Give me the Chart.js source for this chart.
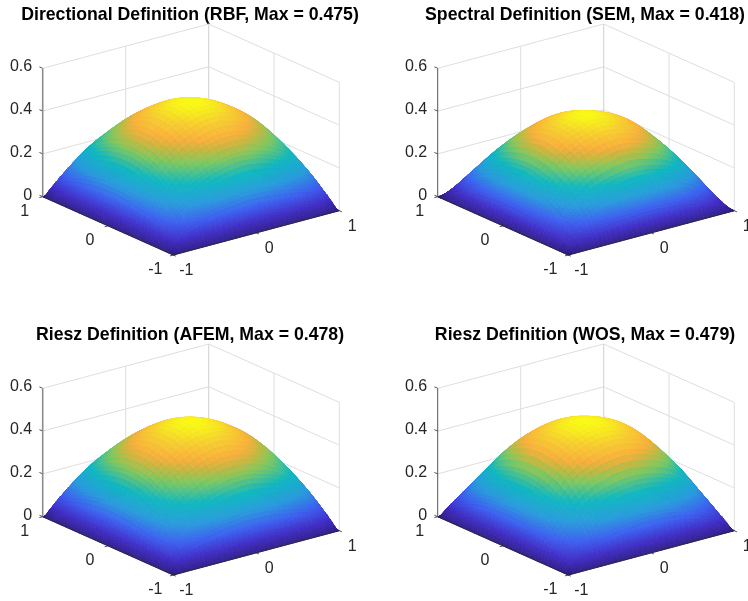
<!DOCTYPE html>
<html>
<head>
<meta charset="utf-8">
<title>Fractional Laplacian surfaces</title>
<script src="https://cdn.jsdelivr.net/npm/chart.js@4/dist/chart.umd.js"></script>
<style>
  html, body { margin: 0; padding: 0; background: #fff; overflow: hidden; width: 748px; height: 601px; }
  canvas { position: absolute; filter: blur(0.45px); }
</style>
</head>
<body>
<canvas id="panel-0" width="380" height="281" style="left:0;top:0"></canvas>
<canvas id="panel-1" width="380" height="281" style="left:395px;top:0"></canvas>
<canvas id="panel-2" width="380" height="281" style="left:0;top:320px"></canvas>
<canvas id="panel-3" width="380" height="281" style="left:395px;top:320px"></canvas>
<script>
'use strict';

/* ─── data ─── */
// surfaces are symmetric, so only the quarter x,y >= 0 is kept (rows = y, columns = x)
var quarterNodes = [0, 0.25, 0.5, 0.7, 0.85, 0.95, 1];

var heightsRBF = [
  [0.475, 0.454, 0.399, 0.333, 0.238, 0.128, 0],
  [0.454, 0.433, 0.381, 0.318, 0.227, 0.122, 0],
  [0.399, 0.381, 0.335, 0.279, 0.200, 0.108, 0],
  [0.333, 0.318, 0.279, 0.233, 0.166, 0.090, 0],
  [0.238, 0.227, 0.200, 0.166, 0.119, 0.064, 0],
  [0.128, 0.122, 0.108, 0.090, 0.064, 0.035, 0],
  [0, 0, 0, 0, 0, 0, 0]
];
var heightsSEM = [
  [0.418, 0.395, 0.343, 0.263, 0.171, 0.075, 0],
  [0.395, 0.373, 0.324, 0.249, 0.162, 0.071, 0],
  [0.343, 0.324, 0.281, 0.216, 0.141, 0.062, 0],
  [0.263, 0.249, 0.216, 0.166, 0.108, 0.047, 0],
  [0.171, 0.162, 0.141, 0.108, 0.070, 0.031, 0],
  [0.075, 0.071, 0.062, 0.047, 0.031, 0.014, 0],
  [0, 0, 0, 0, 0, 0, 0]
];
var heightsAFEM = [
  [0.478, 0.456, 0.402, 0.335, 0.239, 0.129, 0],
  [0.456, 0.436, 0.383, 0.320, 0.228, 0.123, 0],
  [0.402, 0.383, 0.337, 0.281, 0.201, 0.108, 0],
  [0.335, 0.320, 0.281, 0.234, 0.167, 0.090, 0],
  [0.239, 0.228, 0.201, 0.167, 0.120, 0.065, 0],
  [0.129, 0.123, 0.108, 0.090, 0.065, 0.035, 0],
  [0, 0, 0, 0, 0, 0, 0]
];
var heightsWOS = [
  [0.479, 0.460, 0.407, 0.316, 0.220, 0.120, 0],
  [0.460, 0.441, 0.391, 0.303, 0.212, 0.115, 0],
  [0.407, 0.391, 0.346, 0.269, 0.187, 0.102, 0],
  [0.316, 0.303, 0.269, 0.209, 0.145, 0.079, 0],
  [0.220, 0.212, 0.187, 0.145, 0.101, 0.055, 0],
  [0.120, 0.115, 0.102, 0.079, 0.055, 0.030, 0],
  [0, 0, 0, 0, 0, 0, 0]
];

var panelTitles = [
  'Directional Definition (RBF, Max = 0.475)',
  'Spectral Definition (SEM, Max = 0.418)',
  'Riesz Definition (AFEM, Max = 0.478)',
  'Riesz Definition (WOS, Max = 0.479)'
];
var panelHeights = [heightsRBF, heightsSEM, heightsAFEM, heightsWOS];
var panelMaxima = [0.475, 0.418, 0.478, 0.479];

var xTicks = [-1, 0, 1];
var yTicks = [-1, 0, 1];
var zTicks = [0, 0.2, 0.4, 0.6];
var zTickLabels = ['0', '0.2', '0.4', '0.6'];

/* ─── parula colours ─── */
var parulaStops = [
  [0.00, 52, 34, 140],
  [0.11, 66, 48, 200],
  [0.24, 62, 96, 240],
  [0.38, 42, 156, 220],
  [0.53, 16, 184, 192],
  [0.67, 128, 200, 96],
  [0.75, 200, 184, 64],
  [0.81, 250, 176, 60],
  [0.91, 248, 208, 48],
  [1.00, 249, 251, 21]
];

function parula(t) {
  t = Math.max(0, Math.min(1, t));
  for (var i = 1; i < parulaStops.length; i++) {
    var b = parulaStops[i];
    if (t <= b[0]) {
      var a = parulaStops[i - 1];
      var k = (t - a[0]) / (b[0] - a[0]);
      return 'rgb(' + Math.round(a[1] + (b[1] - a[1]) * k) + ',' +
        Math.round(a[2] + (b[2] - a[2]) * k) + ',' +
        Math.round(a[3] + (b[3] - a[3]) * k) + ')';
    }
  }
  return 'rgb(249,251,21)';
}

/* ─── 3D view: az -37.5, el 30 as scale units on the flat x/y scales ─── */
function project(x, y, z) {
  return {
    x: 173.3 + (x + 1) * 83 - (y + 1) * 65.3,
    y: 255 - (x + 1) * 22.15 - (y + 1) * 29.15 - z * 214
  };
}

/* ─── shading between the table nodes (like MATLAB shading interp) ─── */
function slopeAt(vals, i) {
  if (i === 0) return 0;
  var last = vals.length - 1;
  if (i === last) return (vals[last] - vals[last - 1]) / (quarterNodes[last] - quarterNodes[last - 1]);
  return (vals[i + 1] - vals[i - 1]) / (quarterNodes[i + 1] - quarterNodes[i - 1]);
}

function smoothAt(vals, t) {
  var i = 0;
  while (i < quarterNodes.length - 2 && t > quarterNodes[i + 1]) i++;
  var h = quarterNodes[i + 1] - quarterNodes[i];
  var s = (t - quarterNodes[i]) / h;
  var s2 = s * s, s3 = s2 * s;
  return (2 * s3 - 3 * s2 + 1) * vals[i] + (s3 - 2 * s2 + s) * h * slopeAt(vals, i) +
    (3 * s2 - 2 * s3) * vals[i + 1] + (s3 - s2) * h * slopeAt(vals, i + 1);
}

function heightAt(table, x, y) {
  var col = [];
  for (var r = 0; r < table.length; r++) col.push(smoothAt(table[r], Math.abs(x)));
  return Math.max(0, smoothAt(col, Math.abs(y)));
}

function buildSamples() {
  var cuts = [4, 4, 4, 5, 7, 10];
  var half = [];
  for (var i = 0; i < cuts.length; i++) {
    for (var j = 0; j < cuts[i]; j++) {
      half.push(quarterNodes[i] + (quarterNodes[i + 1] - quarterNodes[i]) * j / cuts[i]);
    }
  }
  half.push(1);
  var out = [];
  for (var k = half.length - 1; k > 0; k--) out.push(-half[k]);
  return out.concat(half);
}

/* ─── surface cells, front corner first (chart.js paints the last dataset first) ─── */
function surfaceDatasets(table, maxVal) {
  var samples = buildSamples();
  var n = samples.length;
  var z = [];
  for (var j = 0; j < n; j++) {
    z.push([]);
    for (var i = 0; i < n; i++) z[j].push(heightAt(table, samples[i], samples[j]));
  }
  var sets = [];
  for (var sum = 0; sum <= 2 * (n - 2); sum++) {
    for (var a = Math.max(0, sum - (n - 2)); a <= Math.min(sum, n - 2); a++) {
      var b = sum - a;
      var color = parula((z[b][a] + z[b][a + 1] + z[b + 1][a] + z[b + 1][a + 1]) / 4 / maxVal);
      sets.push({
        data: [
          project(samples[a], samples[b], z[b][a]),
          project(samples[a + 1], samples[b], z[b][a + 1]),
          project(samples[a + 1], samples[b + 1], z[b + 1][a + 1]),
          project(samples[a], samples[b + 1], z[b + 1][a]),
          project(samples[a], samples[b], z[b][a])
        ],
        showLine: true,
        fill: 'shape',
        backgroundColor: color,
        borderColor: color,
        borderWidth: 0.8,
        pointRadius: 0,
        clip: false
      });
    }
  }
  return sets;
}

function lineSet(p, q, color, width) {
  return {
    data: [p, q],
    showLine: true,
    fill: false,
    borderColor: color,
    borderWidth: width,
    pointRadius: 0,
    clip: false
  };
}

/* ─── box walls and grid ─── */
function gridDatasets() {
  var sets = [];
  var gridColor = '#dedede';
  for (var i = 0; i < zTicks.length; i++) {
    var zv = zTicks[i];
    if (zv === 0) continue;
    sets.push(lineSet(project(-1, 1, zv), project(1, 1, zv), gridColor, 1));
    sets.push(lineSet(project(1, 1, zv), project(1, -1, zv), gridColor, 1));
  }
  sets.push(lineSet(project(-1, 1, 0), project(1, 1, 0), gridColor, 1));
  sets.push(lineSet(project(1, 1, 0), project(1, -1, 0), gridColor, 1));
  sets.push(lineSet(project(0, 1, 0), project(0, 1, 0.6), gridColor, 1));
  sets.push(lineSet(project(1, 1, 0), project(1, 1, 0.6), '#d0d0d0', 1));
  sets.push(lineSet(project(1, 0, 0), project(1, 0, 0.6), gridColor, 1));
  sets.push(lineSet(project(1, -1, 0), project(1, -1, 0.6), gridColor, 1));
  return sets;
}

/* ─── axis lines and ticks ─── */
function axisDatasets(index) {
  var dark = '#262626';
  var leftColumn = index % 2 === 0;
  var sets = [
    lineSet(project(-1, 1, 0), project(-1, -1, 0), dark, 0.8),
    lineSet(project(-1, -1, 0), project(1, -1, 0), dark, 0.8),
    lineSet(project(-1, 1, 0), project(-1, 1, 0.6), leftColumn ? '#8c8c8c' : '#555555', leftColumn ? 1.6 : 1)
  ];
  for (var i = 0; i < zTicks.length; i++) {
    sets.push(lineSet(project(-1, 1, zTicks[i]), project(-1, 1.05, zTicks[i]), dark, 0.8));
  }
  for (var j = 0; j < xTicks.length; j++) {
    sets.push(lineSet(project(xTicks[j], -1, 0), project(xTicks[j], -1.04, 0), dark, 0.8));
    sets.push(lineSet(project(-1, yTicks[j], 0), project(-1.04, yTicks[j], 0), dark, 0.8));
  }
  return sets;
}

/* ─── tick labels, anchored through the scales ─── */
var tickLabelPlugin = {
  id: 'tickLabels',
  afterDatasetsDraw: function (chart) {
    var ctx = chart.ctx;
    var sx = chart.scales.x, sy = chart.scales.y;
    ctx.save();
    ctx.font = '16px "Liberation Sans", sans-serif';
    ctx.fillStyle = '#262626';
    ctx.textBaseline = 'middle';

    ctx.textAlign = 'right';
    for (var i = 0; i < zTicks.length; i++) {
      var pz = project(-1, 1, zTicks[i]);
      ctx.fillText(zTickLabels[i], sx.getPixelForValue(pz.x - 10.5), sy.getPixelForValue(pz.y - 1.5));
    }

    ctx.textAlign = 'center';
    for (var j = 0; j < xTicks.length; j++) {
      var px = project(xTicks[j], -1, 0);
      ctx.fillText(String(xTicks[j]), sx.getPixelForValue(px.x + 13), sy.getPixelForValue(px.y + 15.5));
      var py = project(-1, yTicks[j], 0);
      ctx.fillText(String(yTicks[j]), sx.getPixelForValue(py.x - 18), sy.getPixelForValue(py.y + 14.5));
    }
    ctx.restore();
  }
};

/* ─── panel ─── */
function renderPanel(index) {
  var canvas = document.getElementById('panel-' + index);
  var datasets = axisDatasets(index)
    .concat(surfaceDatasets(panelHeights[index], panelMaxima[index]))
    .concat(gridDatasets());

  new Chart(canvas, {
    type: 'scatter',
    data: { datasets: datasets },
    plugins: [tickLabelPlugin],
    options: {
      responsive: false,
      animation: false,
      events: [],
      layout: { padding: 0 },
      plugins: {
        legend: { display: false },
        tooltip: { enabled: false },
        title: {
          display: true,
          text: panelTitles[index],
          color: '#000',
          font: { family: '"Liberation Sans", sans-serif', size: 17.7, weight: 'bold', lineHeight: 1.2 },
          padding: { top: 4.5, bottom: 0 }
        }
      },
      scales: {
        x: { type: 'linear', display: false, min: 0, max: 380 },
        y: { type: 'linear', display: false, min: 25.74, max: 281, reverse: true }
      }
    }
  });
}

for (var p = 0; p < panelTitles.length; p++) renderPanel(p);
</script>
</body>
</html>
